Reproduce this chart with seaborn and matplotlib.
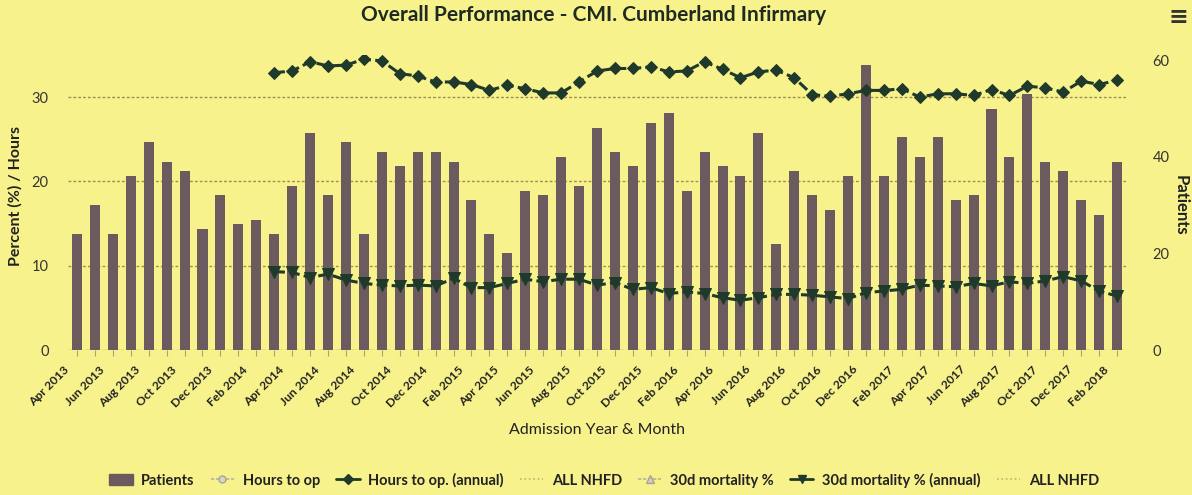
import numpy as np
import pandas as pd
import matplotlib
matplotlib.use("Agg")
import matplotlib.pyplot as plt
import matplotlib.transforms as mtransforms
import seaborn as sns
from matplotlib.lines import Line2D
from matplotlib.patches import Patch

# ---------------- data ----------------
months = [d.strftime("%b %Y") for d in pd.date_range("2013-04-01", "2018-02-01", freq="MS")]

patients = [24, 30, 24, 36, 43, 39, 37, 25, 32, 26,
            27, 24, 34, 45, 32, 43, 24, 41, 38, 41,
            41, 39, 31, 24, 20, 33, 32, 40, 34, 46,
            41, 38, 47, 49, 33, 41, 38, 36, 45, 22,
            37, 32, 29, 36, 59, 36, 44, 40, 44, 31,
            32, 50, 40, 53, 39, 37, 31, 28, 39]

hours_annual = [np.nan] * 11 + [
    32.9, 33.1, 34.2, 33.7, 33.8, 34.5, 34.3, 32.8, 32.5, 31.8,
    31.8, 31.5, 30.8, 31.4, 31.0, 30.5, 30.5, 31.8, 33.1, 33.4,
    33.4, 33.6, 33.0, 33.1, 34.2, 33.3, 32.3, 33.0, 33.2, 32.3,
    30.3, 30.1, 30.4, 30.8, 30.8, 31.0, 30.0, 30.4, 30.4, 30.2,
    30.9, 30.2, 31.3, 31.1, 30.6, 31.9, 31.5, 32.0]

mortality_annual = [np.nan] * 11 + [
    9.3, 9.2, 8.6, 9.0, 8.3, 7.9, 7.7, 7.6, 7.7, 7.6,
    8.5, 7.4, 7.4, 7.9, 8.4, 8.1, 8.4, 8.4, 7.7, 8.0,
    7.2, 7.4, 6.7, 6.9, 6.7, 6.2, 5.9, 6.2, 6.6, 6.6,
    6.5, 6.3, 6.1, 6.8, 7.0, 7.2, 7.7, 7.6, 7.5, 7.9,
    7.6, 8.1, 7.9, 8.2, 8.7, 8.2, 7.0, 6.4]

left_ticks = [0, 10, 20, 30]
right_ticks = [0, 20, 40, 60]
tick_labels = months[::2]

title = "Overall Performance - CMI. Cumberland Infirmary"
legend_labels = ["Patients", "Hours to op", "Hours to op. (annual)", "ALL NHFD",
                 "30d mortality %", "30d mortality % (annual)", "ALL NHFD"]

# ---------------- style ----------------
BG = "#f8f28c"
BAR = "#6b5b5e"
DARK = "#1f3a2a"
GRID = "#a48a55"
TXT = "#222222"

sns.set_theme(style="white")
plt.rcParams["font.family"] = ["Lato", "DejaVu Sans"]

df = pd.DataFrame({
    "month": months,
    "idx": np.arange(len(months)),
    "patients": patients,
    "hours": hours_annual,
    "mort": mortality_annual,
})

W, H = 1192, 495
fig = plt.figure(figsize=(W / 100, H / 100), dpi=100, facecolor=BG)
rect = [68 / W, 1 - 350 / H, (1126 - 68) / W, (350 - 55) / H]

ax_grid = fig.add_axes(rect)
ax_grid.set_facecolor(BG)
ax_bar = ax_grid.twinx()
ax_line = fig.add_axes(rect, sharex=ax_grid, sharey=ax_grid)
ax_line.set_axis_off()
ax_grid.set_zorder(0)
ax_bar.set_zorder(1)
ax_line.set_zorder(2)
ax_bar.patch.set_visible(False)

# bars (patients, right axis)
sns.barplot(data=df, x="month", y="patients", ax=ax_bar, color=BAR,
            width=0.56, saturation=1, linewidth=0)

# annual lines (percent / hours, left axis)
sns.lineplot(data=df, x="idx", y="hours", ax=ax_line, color=DARK, errorbar=None,
             linewidth=2.2, linestyle=(0, (3.5, 1.4)), marker="D", markersize=6.5,
             markeredgecolor=DARK, markerfacecolor=DARK)
sns.lineplot(data=df, x="idx", y="mort", ax=ax_line, color=DARK, errorbar=None,
             linewidth=2.2, linestyle=(0, (3.5, 1.4)), marker="v", markersize=8,
             markeredgecolor=DARK, markerfacecolor=DARK)

# axes limits / ticks
n = len(months)
ax_grid.set_xlim(-0.5, n - 0.5)
ax_grid.set_ylim(0, 35)
ax_bar.set_ylim(0, 295 / 4.83)

for s in ax_grid.spines.values():
    s.set_visible(False)
for s in ax_bar.spines.values():
    s.set_visible(False)

ax_grid.set_yticks(left_ticks)
ax_grid.set_yticklabels([str(t) for t in left_ticks], fontsize=10.5, color="#333333")
ax_grid.tick_params(axis="y", length=0, pad=14)
ax_bar.set_yticks(right_ticks)
ax_bar.set_yticklabels([str(t) for t in right_ticks], fontsize=10.5, color="#333333")
ax_bar.tick_params(axis="y", length=0, pad=19)
ax_bar.set_ylabel("")
ax_bar.set_xlabel("")

for yv in left_ticks[1:]:
    ax_grid.axhline(yv, color=GRID, linewidth=1.0, linestyle=(0, (2, 1.5)), zorder=0)
ax_grid.axhline(0, color=GRID, linewidth=1.0, linestyle=(0, (4, 2)), zorder=0)

ax_grid.set_xticks(range(0, n, 2))
ax_grid.set_xticks(range(1, n, 2), minor=True)
ax_grid.set_xticklabels(tick_labels, rotation=45, ha="right", va="center",
                        rotation_mode="anchor", fontsize=8.7, fontweight="bold", color=TXT)
ax_grid.tick_params(axis="x", which="both", length=4.5, width=0.8, color="#b39a70",
                    direction="out", bottom=True, pad=4)
shift = mtransforms.ScaledTranslation(-10 / 100, -6 / 100, fig.dpi_scale_trans)
for lab in ax_grid.get_xticklabels():
    lab.set_transform(lab.get_transform() + shift)
ax_grid.set_xlabel("")
ax_grid.set_ylabel("")

# texts
fig.text(594 / W, 1 - 15 / H, title, ha="center", va="center", fontsize=15,
         fontweight="bold", color="#1e2a22")
fig.text(1178 / W, 1 - 17 / H, "\u2261", ha="center", va="center", fontsize=17,
         fontweight="bold", color="#333333", family=["DejaVu Sans"])
fig.text(15 / W, 1 - 196 / H, "Percent (%) / Hours", rotation=90, ha="center",
         va="center", fontsize=11.5, fontweight="bold", color=TXT)
fig.text(1181 / W, 1 - 205 / H, "Patients", rotation=270, ha="center",
         va="center", fontsize=12, fontweight="bold", color=TXT)
fig.text(597 / W, 1 - 430 / H, "Admission Year & Month", ha="center", va="center",
         fontsize=11.5, color=TXT)

# legend
handles = [
    Patch(facecolor=BAR, edgecolor=BAR),
    Line2D([], [], color="#b8b4a0", linestyle=(0, (2, 1)), marker="o", markersize=5,
           markerfacecolor="#d8d6c8", markeredgecolor="#a8a490", linewidth=1.2),
    Line2D([], [], color=DARK, linestyle="-", marker="D", markersize=5, linewidth=2),
    Line2D([], [], color="#c8b070", linestyle=":", linewidth=1.2),
    Line2D([], [], color="#b8b4a0", linestyle=(0, (2, 1)), marker="^", markersize=6,
           markerfacecolor="#d0cdb8", markeredgecolor="#a8a490", linewidth=1.2),
    Line2D([], [], color=DARK, linestyle="-", marker="v", markersize=6, linewidth=2),
    Line2D([], [], color="#c8b070", linestyle=":", linewidth=1.2),
]
fig.legend(handles, legend_labels, loc="center", bbox_to_anchor=(604 / W, 1 - 480 / H),
           ncol=7, frameon=False, prop={"weight": "bold", "size": 10.5},
           handlelength=1.6, handletextpad=0.6, columnspacing=1.1, labelcolor=TXT)

fig.savefig("out.png", dpi=100, facecolor=BG)
